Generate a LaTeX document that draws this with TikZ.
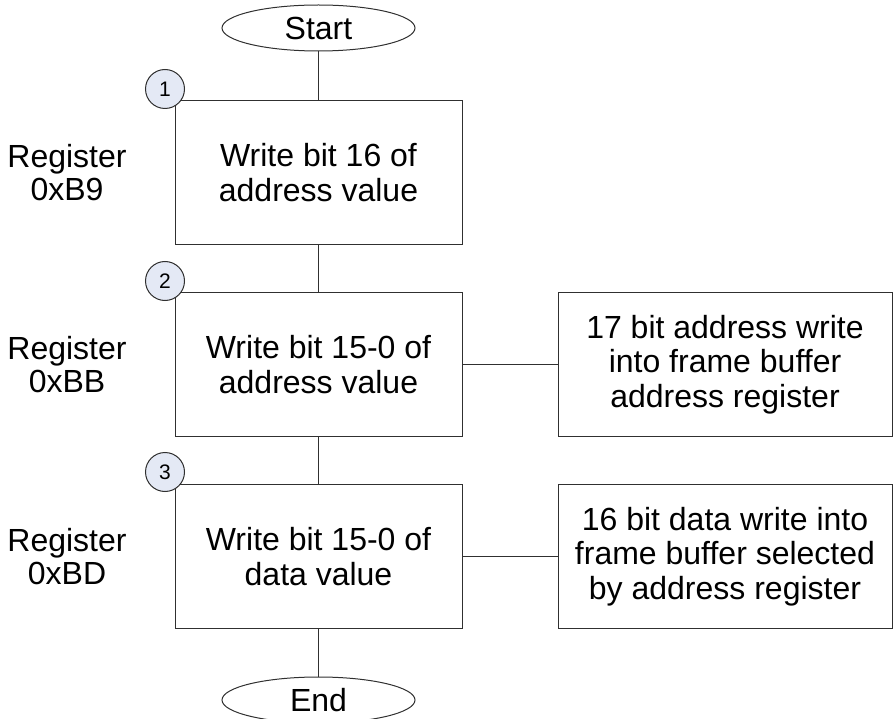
\documentclass[tikz,border=0pt]{standalone}
\usepackage{fontspec}
\setmainfont{Liberation Sans}
\usetikzlibrary{shapes.geometric}
\definecolor{stepfill}{HTML}{E4E9F5}
\definecolor{edgegray}{HTML}{303030}
\begin{document}
\begin{tikzpicture}[x=1pt,y=-1pt,
  txt/.style={font=\fontsize{32}{34.5}\selectfont, align=center, text=black},
  stepbox/.style={txt, draw=edgegray, line width=1pt, fill=white, rectangle,
    minimum width=287pt, minimum height=144pt, inner sep=0pt},
  notebox/.style={txt, draw=edgegray, line width=1pt, fill=white, rectangle,
    minimum width=334pt, minimum height=144pt, inner sep=0pt},
  terminal/.style={txt, draw=edgegray, line width=1pt, fill=white, ellipse,
    minimum width=193pt, minimum height=46pt, inner sep=0pt},
  badge/.style={circle, draw=edgegray, line width=1pt, fill=stepfill,
    minimum size=39pt, inner sep=0pt, font=\fontsize{21}{22}\selectfont},
  link/.style={draw=edgegray, line width=1pt},
  reglabel/.style={font=\fontsize{32}{33}\selectfont, align=center}]
\useasboundingbox (0,0) rectangle (894,719);

% start / end terminals
\node[terminal] (start) at (318.5,28) {Start};
\node[terminal] (end) at (318.5,700) {End};

% register write steps
\node[stepbox] (s1) at (318.5,172.5) {Write bit 16 of\\address value};
\node[stepbox] (s2) at (318.5,364.5) {Write bit 15-0 of\\address value};
\node[stepbox] (s3) at (318.5,556.5) {Write bit 15-0 of\\data value};

% explanatory notes
\node[notebox] (n2) at (725,364.5) {17 bit address write\\into frame buffer\\address register};
\node[notebox] (n3) at (725,556.5) {16 bit data write into\\frame buffer selected\\by address register};

% register names
\node[reglabel] (r1) at (67,172.5) {Register\\0xB9};
\node[reglabel] (r2) at (67,364.5) {Register\\0xBB};
\node[reglabel] (r3) at (67,556.5) {Register\\0xBD};

% flow connectors
\draw[link] (start) -- (s1);
\draw[link] (s1) -- (s2);
\draw[link] (s2) -- (s3);
\draw[link] (s3) -- (end);
\draw[link] (s2) -- (n2);
\draw[link] (s3) -- (n3);

% step numbers
\node[badge] (b1) at (165,89) {1};
\node[badge] (b2) at (165,281) {2};
\node[badge] (b3) at (165,472) {3};
\end{tikzpicture}
\end{document}
